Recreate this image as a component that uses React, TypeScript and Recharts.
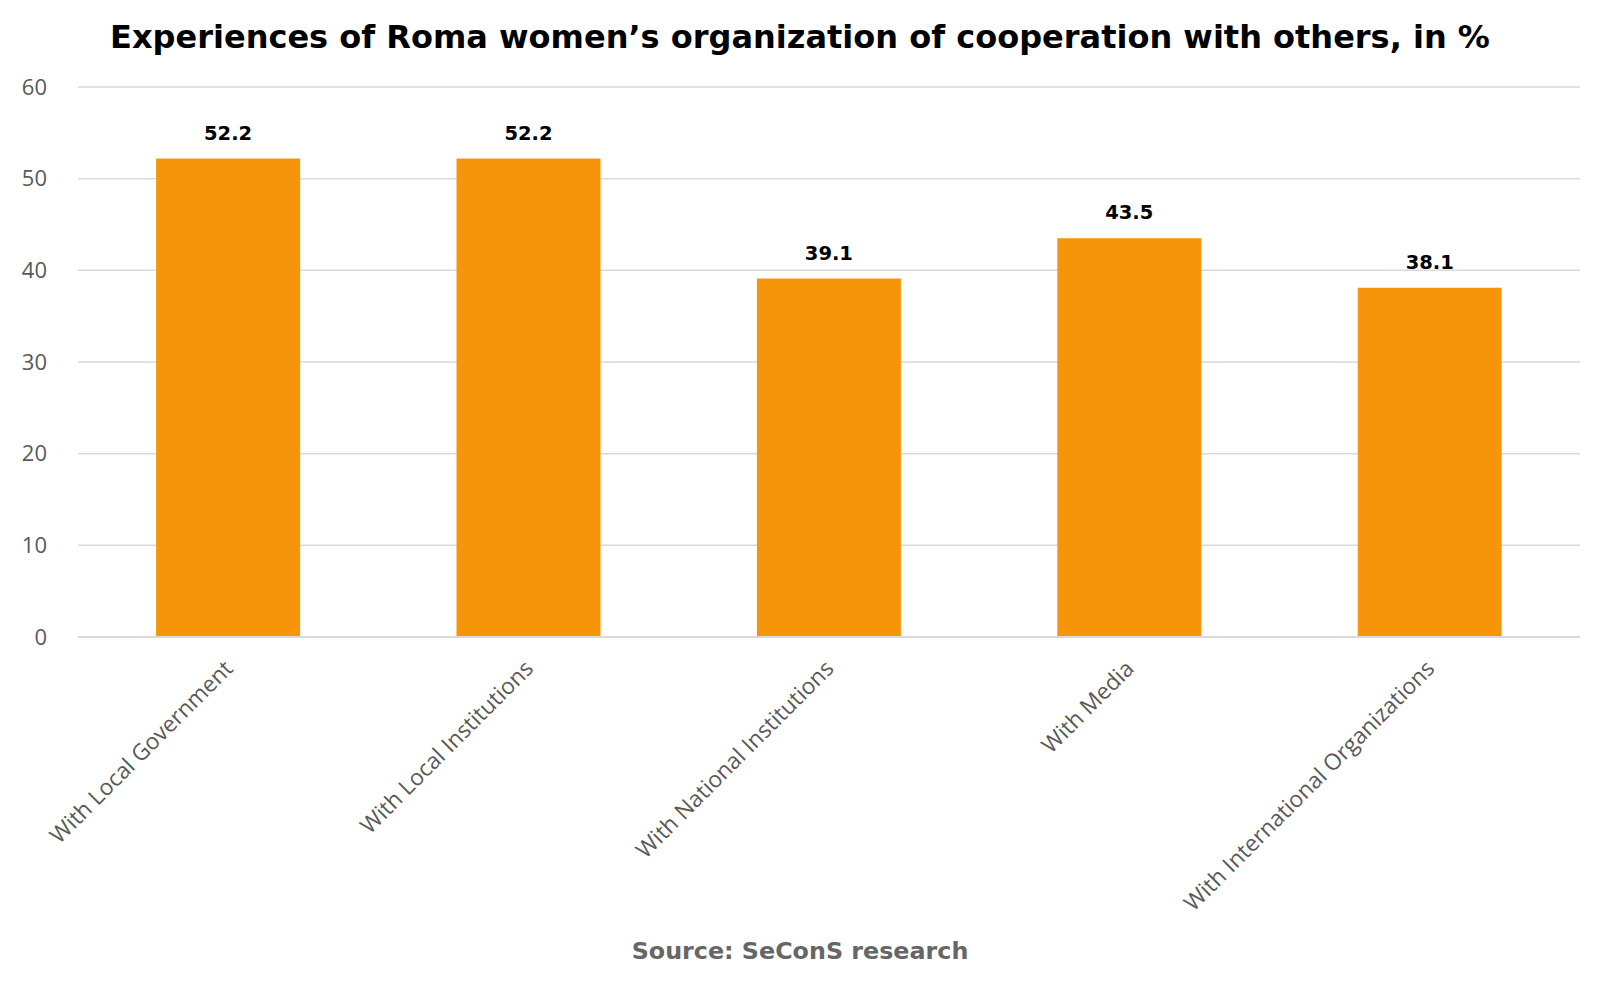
import React from 'react';
import { BarChart, Bar, XAxis, YAxis, CartesianGrid, LabelList } from 'recharts';

const categories = [
  'With Local Government',
  'With Local Institutions',
  'With National Institutions',
  'With Media',
  'With International Organizations',
];
const percentages = [52.2, 52.2, 39.1, 43.5, 38.1];
const yTicks = [0, 10, 20, 30, 40, 50, 60];

const data = categories.map((name, i) => ({ name, value: percentages[i] }));

const GRAY = '#595959';
const GRID = '#d9d9d9';

const CategoryTick = (props: any) => {
  const { x, y, payload } = props;
  return (
    <g transform={`translate(${x + 6},${y + 25})`}>
      <text
        transform="rotate(-45)"
        textAnchor="end"
        fill={GRAY}
        fontFamily="'Open Sans', sans-serif"
        fontSize={22.6}
      >
        {payload.value}
      </text>
    </g>
  );
};

const App: React.FC = () => {
  return (
    <div style={{ position: 'absolute', left: 0, top: 0, width: 1600, height: 1000, background: '#fff' }}>
      <div
        style={{
          position: 'absolute',
          left: 0,
          width: 1600,
          top: 16,
          textAlign: 'center',
          fontFamily: "'DejaVu Sans', sans-serif",
          fontWeight: 'bold',
          fontSize: 32,
          lineHeight: '42px',
          color: '#000',
        }}
      >
        Experiences of Roma women’s organization of cooperation with others, in %
      </div>
      <BarChart
        width={1600}
        height={1000}
        data={data}
        margin={{ top: 87, right: 20, left: 0, bottom: 0 }}
        barCategoryGap="26%"
      >
        <CartesianGrid vertical={false} stroke={GRID} strokeWidth={1.5} />
        <XAxis
          dataKey="name"
          height={363}
          interval={0}
          axisLine={{ stroke: GRID, strokeWidth: 2 }}
          tickLine={false}
          tick={<CategoryTick />}
        />
        <YAxis
          width={78}
          domain={[0, 60]}
          ticks={yTicks}
          axisLine={false}
          tickLine={false}
          tickSize={0}
          tickMargin={31}
          tick={{ fill: GRAY, fontSize: 22, fontFamily: "'Open Sans', sans-serif" }}
        />
        <Bar dataKey="value" fill="#F7950A" isAnimationActive={false}>
          <LabelList
            dataKey="value"
            position="top"
            offset={19}
            fill="#000"
            fontSize={19.5}
            fontWeight="bold"
            fontFamily="'DejaVu Sans', sans-serif"
          />
        </Bar>
      </BarChart>
      <div
        style={{
          position: 'absolute',
          left: 0,
          width: 1600,
          top: 935,
          textAlign: 'center',
          fontFamily: "'DejaVu Sans', sans-serif",
          fontWeight: 'bold',
          fontSize: 23.8,
          lineHeight: '32px',
          color: '#666666',
        }}
      >
        Source: SeConS research
      </div>
    </div>
  );
};

export default App;
